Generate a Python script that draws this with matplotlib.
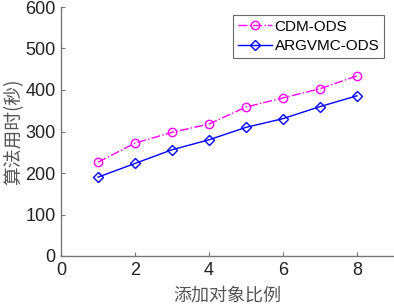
import matplotlib
matplotlib.use("Agg")
import matplotlib.pyplot as plt

x = [1, 2, 3, 4, 5, 6, 7, 8]
cdm_ods = [226, 272, 298, 318, 359, 381, 403, 434]
argvmc_ods = [190, 223, 256, 280, 310, 331, 360, 386]
series_names = ["CDM-ODS", "ARGVMC-ODS"]
xticks = [0, 2, 4, 6, 8]
yticks = [0, 100, 200, 300, 400, 500, 600]

plt.rcParams['font.family'] = ['Liberation Sans', 'Noto Sans CJK SC', 'DejaVu Sans']

fig = plt.figure(figsize=(3.94, 3.07), dpi=100)
ax = fig.add_axes([61/394, 1 - 256/307, (394 - 61)/394, (256 - 7)/307])

ax.plot(x, cdm_ods, color='#ff00ff', linestyle='-.', marker='o', markersize=6,
        markerfacecolor='none', markeredgewidth=1.0, linewidth=1.0, label=series_names[0])
ax.plot(x, argvmc_ods, color='#0000ff', linestyle='-', marker='D', markersize=5.5,
        markerfacecolor='none', markeredgewidth=1.0, linewidth=1.0, label=series_names[1])

ax.set_xlim(0, 9)
ax.set_ylim(0, 600)
ax.set_xticks(xticks)
ax.set_yticks(yticks)
for s in ['top', 'right']:
    ax.spines[s].set_visible(False)
for s in ['left', 'bottom']:
    ax.spines[s].set_color('#777777')
    ax.spines[s].set_linewidth(1.0)
ax.tick_params(direction='in', length=3, color='#777777', labelsize=13, labelcolor='#222222', pad=4)

ax.set_xlabel('添加对象比例', fontsize=13, color='#555555', family=['Noto Sans CJK SC'])
ax.set_ylabel('算法用时(秒)', fontsize=13.5, color='#555555', family=['Noto Sans CJK SC'])
ax.xaxis.set_label_coords(0.5, (256 - 296) / 249, transform=ax.transAxes)
ax.yaxis.set_label_coords((14 - 61) / 333, 0.5, transform=ax.transAxes)
ax.xaxis.label.set_va('center')
ax.yaxis.label.set_va('center')

leg = ax.legend(loc='upper right', bbox_to_anchor=((384 - 61) / (394 - 61), 1 - (15 - 7) / (256 - 7)),
                fontsize=11, frameon=True, fancybox=False, edgecolor='#444444',
                handlelength=2.2, borderpad=0.3, labelspacing=0.35, handletextpad=0.2, borderaxespad=0)
leg.get_frame().set_linewidth(0.8)

fig.savefig('out.png', dpi=100)
